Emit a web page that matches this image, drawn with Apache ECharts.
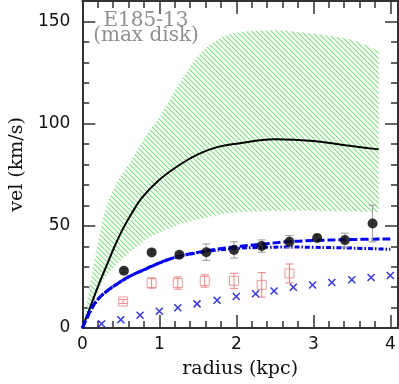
<!DOCTYPE html>
<html><head><meta charset="utf-8">
<script src="https://cdn.jsdelivr.net/npm/echarts@6/dist/echarts.min.js"></script>
<style>html,body{margin:0;padding:0;background:#fff}#c{width:399px;height:384px}</style>
</head><body><div id="c"></div>
<script>
// observed rotation curve (black dots)
const obsR   = [0.54, 0.90, 1.26, 1.61, 1.97, 2.33, 2.69, 3.05, 3.41, 3.77];
const obsV   = [28.0, 37.0, 35.8, 37.1, 38.2, 40.1, 42.2, 44.0, 43.0, 51.1];
const obsErr = [1.0, 1.0, 1.0, 4.0, 4.0, 3.0, 3.0, 1.5, 3.4, 9.0];
// gas (pink squares)
const gasR   = [0.53, 0.90, 1.24, 1.59, 1.97, 2.33, 2.69];
const gasV   = [13.0, 22.0, 22.0, 23.0, 23.1, 21.1, 26.7];
const gasErr = [1.0, 2.5, 3.0, 3.0, 3.7, 6.0, 4.6];
// stars (blue crosses)
const starR  = [0.25, 0.50, 0.75, 1.00, 1.24, 1.49, 1.75, 2.00, 2.25, 2.49, 2.74, 2.99, 3.24, 3.50, 3.75, 4.00];
const starV  = [2.1, 4.0, 6.2, 8.2, 9.9, 11.8, 13.6, 15.4, 16.8, 18.1, 19.9, 21.0, 22.3, 23.6, 24.7, 25.7];
// hatched band
const bandR  = [0, 0.13, 0.28, 0.42, 0.6, 0.86, 1.0, 1.25, 1.5, 1.75, 2.0, 2.3, 2.6, 3.0, 3.5, 3.85];
const bandLo = [0, 11, 23.5, 30, 36.5, 44, 46.5, 50.5, 53, 55.2, 56.5, 57.1, 57.3, 57.3, 57, 56.8];
const bandHi = [0, 27, 55, 69, 80, 96, 103, 119, 133, 141, 144.5, 145.5, 145.5, 144, 141, 135.5];
// black model curve
const modR   = [0, 0.1, 0.21, 0.32, 0.42, 0.52, 0.64, 0.77, 1.0, 1.27, 1.5, 1.75, 2.0, 2.5, 3.0, 3.5, 3.85];
const modV   = [0, 10, 21, 31, 40, 48, 56, 63.5, 72.5, 80, 85, 88.5, 90.2, 92.3, 91.5, 89, 87.4];
// blue dashed and dash-dot curves
const blueR  = [0, 0.1, 0.18, 0.3, 0.45, 0.6, 0.8, 0.95, 1.2, 1.6, 2.0, 2.3, 2.7, 3.0, 3.5, 4.0];
const dashV  = [0, 8, 13, 17.5, 21.5, 25, 28.5, 31, 34.5, 37.7, 39.8, 40.9, 42.3, 42.8, 43.3, 43.6];
const dotV   = [0, 8, 13, 17.5, 21.5, 25, 28.5, 31, 34.5, 37.4, 38.9, 39.4, 39.6, 39.5, 39.1, 38.5];
// axes
const xMax = 4.1, yMax = 160;
const titleLines = ['E185-13', '(max disk)'];

const pat = document.createElement('canvas'); pat.width = 5; pat.height = 5;
const pc = pat.getContext('2d');
for (let i = 0; i < 5; i++) { pc.fillStyle = '#6cf06c'; pc.fillRect(i, i, 1, 1); pc.fillStyle = '#c4fac4'; pc.fillRect((i + 1) % 5, i, 1, 1); }

const zip = (a, b) => a.map((v, i) => [v, b[i]]);
const zip3 = (a, b, c) => a.map((v, i) => [v, b[i], c[i]]);
const axCol = '#333';

// Catmull-Rom smoothing of pixel points (rendering only)
function spline(pts, n) {
  const out = [];
  for (let i = 0; i < pts.length - 1; i++) {
    const p0 = pts[Math.max(i - 1, 0)], p1 = pts[i], p2 = pts[i + 1], p3 = pts[Math.min(i + 2, pts.length - 1)];
    for (let k = 0; k < n; k++) {
      const t = k / n, t2 = t * t, t3 = t2 * t;
      out.push([0, 1].map(d => 0.5 * ((2 * p1[d]) + (-p0[d] + p2[d]) * t + (2 * p0[d] - 5 * p1[d] + 4 * p2[d] - p3[d]) * t2 + (-p0[d] + 3 * p1[d] - 3 * p2[d] + p3[d]) * t3)));
    }
  }
  out.push(pts[pts.length - 1]);
  return out;
}

function bandRender(params, api) {
  if (params.dataIndex !== 0) return;
  const hi = spline(bandR.map((r, i) => api.coord([r, bandHi[i]])), 8);
  const lo = spline(bandR.map((r, i) => api.coord([r, bandLo[i]])), 8);
  return { type: 'polygon', shape: { points: hi.concat(lo.reverse()) }, style: { fill: { image: pat, repeat: 'repeat' }, stroke: null } };
}

function errRender(color) {
  return function (params, api) {
    const x = api.value(0), y = api.value(1), e = api.value(2);
    const t = api.coord([x, y + e]), b = api.coord([x, y - e]);
    const st = { stroke: color, lineWidth: 1 };
    return { type: 'group', children: [
      { type: 'line', shape: { x1: t[0], y1: t[1], x2: b[0], y2: b[1] }, style: st },
      { type: 'line', shape: { x1: t[0] - 4, y1: t[1], x2: t[0] + 4, y2: t[1] }, style: st },
      { type: 'line', shape: { x1: b[0] - 4, y1: b[1], x2: b[0] + 4, y2: b[1] }, style: st }
    ]};
  };
}

function xAx(pos, major, withLabel) {
  return {
    type: 'value', min: 0, max: xMax, interval: major ? 1 : 0.2, position: pos,
    axisLine: { show: major, onZero: false, lineStyle: { color: axCol, width: 2 } },
    axisTick: { show: true, inside: true, length: major ? 13 : 7, lineStyle: { color: axCol, width: 1.5 } },
    splitLine: { show: false },
    axisLabel: { show: withLabel, showMaxLabel: false, margin: 8, fontSize: 17, fontFamily: 'DejaVu Sans', color: '#111' },
    name: withLabel ? 'radius (kpc)' : '', nameLocation: 'middle', nameGap: 32,
    nameTextStyle: { fontSize: 19, fontFamily: 'DejaVu Serif', color: '#111' }
  };
}
function yAx(pos, major, withLabel) {
  return {
    type: 'value', min: 0, max: yMax, interval: major ? 50 : 10, position: pos,
    axisLine: { show: major, onZero: false, lineStyle: { color: axCol, width: 2 } },
    axisTick: { show: true, inside: true, length: major ? 13 : 7, lineStyle: { color: axCol, width: 1.5 } },
    splitLine: { show: false },
    axisLabel: { show: withLabel, showMaxLabel: false, margin: 12, fontSize: 17, fontFamily: 'DejaVu Sans', color: '#111' },
    name: withLabel ? 'vel (km/s)' : '', nameLocation: 'middle', nameGap: 54,
    nameTextStyle: { fontSize: 19, fontFamily: 'DejaVu Serif', color: '#111' }
  };
}

const chart = echarts.init(document.getElementById('c'), null, { renderer: 'canvas' });
chart.setOption({
  animation: false,
  backgroundColor: '#fff',
  grid: { left: 76, top: 1, width: 322, height: 330, containLabel: false },
  xAxis: [xAx('bottom', true, true), xAx('bottom', false, false), xAx('top', true, false), xAx('top', false, false)],
  yAxis: [yAx('left', true, true), yAx('left', false, false), yAx('right', true, false), yAx('right', false, false)],
  graphic: titleLines.map((t, i) => ({
    type: 'text', x: 146, y: 21 + i * 15, z: 100,
    style: { text: t, fontSize: 20, fontFamily: 'DejaVu Serif', fill: '#909090', align: 'center', verticalAlign: 'middle' }
  })),
  series: [
    { type: 'custom', data: [[bandR[0], bandLo[0]]], renderItem: bandRender, encode: { x: 0, y: 1 }, z: 1, silent: true, clip: true },
    { type: 'line', data: zip(modR, modV), smooth: 0.4, symbol: 'none', lineStyle: { color: '#000', width: 2 }, z: 2 },
    { type: 'line', data: zip(blueR, dotV), smooth: 0.4, symbol: 'none', lineStyle: { color: '#0000ff', width: 3, type: [5, 2, 1.5, 2] }, z: 2 },
    { type: 'line', data: zip(blueR, dashV), smooth: 0.4, symbol: 'none', lineStyle: { color: '#0000ff', width: 3, type: [8, 3] }, z: 2 },
    { type: 'custom', data: zip3(obsR, obsV, obsErr), renderItem: errRender('#999'), encode: { x: 0, y: 1 }, z: 3 },
    { type: 'custom', data: zip3(gasR, gasV, gasErr), renderItem: errRender('#f08080'), encode: { x: 0, y: 1 }, z: 3 },
    { type: 'scatter', data: zip(gasR, gasV), symbol: 'rect', symbolSize: 9,
      itemStyle: { color: 'rgba(0,0,0,0)', borderColor: '#f08080', borderWidth: 1 }, z: 4 },
    { type: 'scatter', data: zip(starR, starV), symbol: 'path://M0,0L10,10M10,0L0,10', symbolSize: 7,
      itemStyle: { color: 'rgba(0,0,0,0)', borderColor: '#0000ff', borderWidth: 1.5 }, z: 4 },
    { type: 'scatter', data: zip(obsR, obsV), symbol: 'circle', symbolSize: 10, itemStyle: { color: '#000' }, z: 5 }
  ]
});
</script></body></html>
